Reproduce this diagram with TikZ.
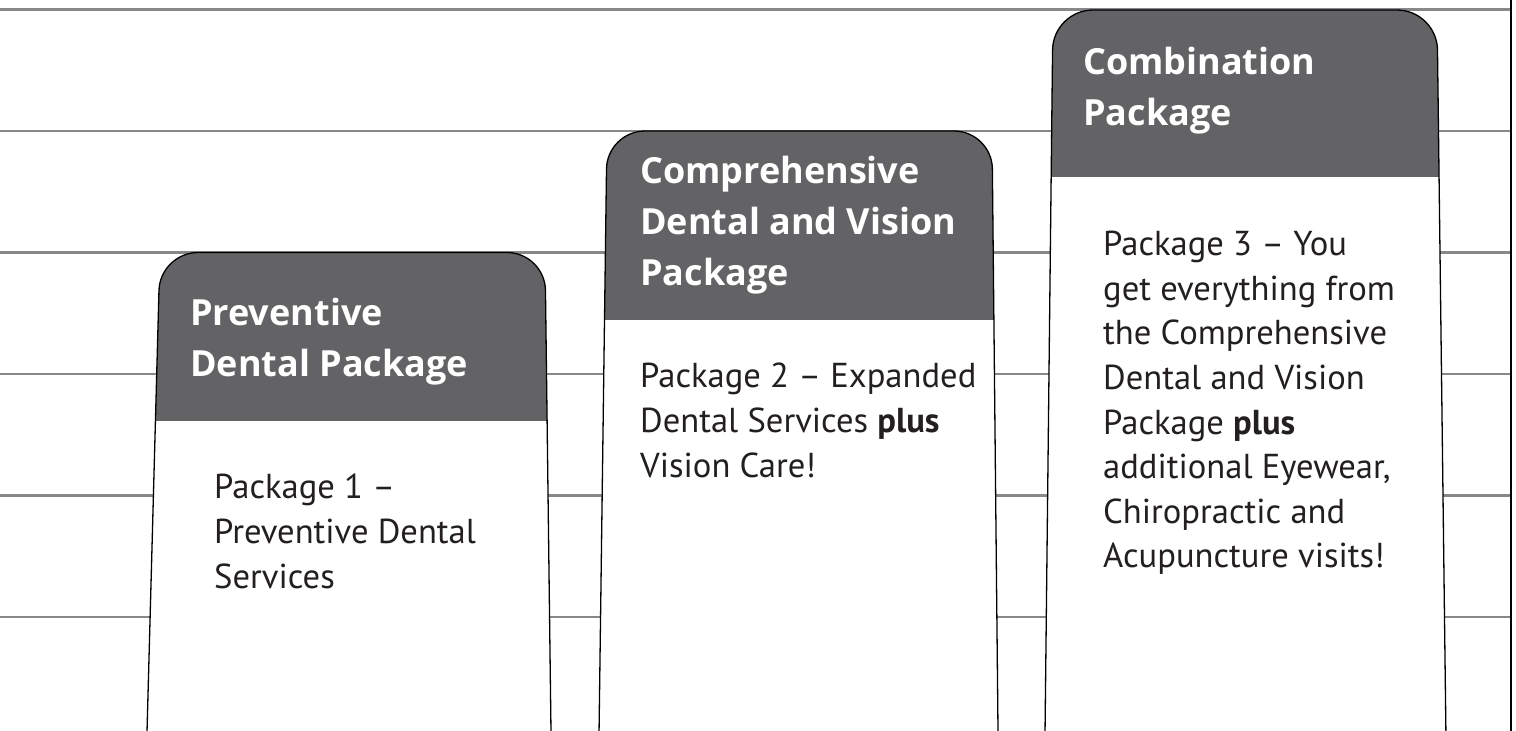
\documentclass[tikz,border=0pt]{standalone}
\usepackage{fontspec}
\setmainfont{PT Sans}
\newfontfamily\headfont{Open Sans}
\definecolor{hdrgray}{HTML}{636366}
\definecolor{rulegray}{HTML}{88888A}
\definecolor{ink}{HTML}{231F20}
\tikzset{
  rule/.style={draw=rulegray, line width=2.2pt},
  colline/.style={draw=black, line width=1.3pt},
  title/.style={anchor=north west, inner sep=0pt, align=left, text=white,
    font=\headfont\bfseries\fontsize{36}{51}\selectfont},
  body/.style={anchor=north west, inner sep=0pt, align=left, text=ink,
    font=\fontsize{34.6}{44.6}\selectfont},
}
\begin{document}
\begin{tikzpicture}[x=1pt,y=-1pt]
      \useasboundingbox (0,0) rectangle (1516,731);
      \clip (0,0) rectangle (1516,731);
      % background rules
      \draw[rule] (0,9.5) -- (1511,9.5);
      \draw[rule] (0,131) -- (1511,131);
      \draw[rule] (0,252.5) -- (1511,252.5);
      \draw[rule] (0,374) -- (1511,374);
      \draw[rule] (0,495.5) -- (1511,495.5);
      \draw[rule] (0,617) -- (1511,617);
      \draw[colline] (1511,0) -- (1511,731);
      % column 1
      \fill[white, rounded corners=38pt] (145.7,780) -- (160,252.5) -- (545,252.5) -- (551.6,780) -- cycle;
      \begin{scope}
        \clip (0,0) rectangle (1516,420);
        \fill[hdrgray, rounded corners=38pt] (145.7,780) -- (160,252.5) -- (545,252.5) -- (551.6,780) -- cycle;
      \end{scope}
      \draw[colline, rounded corners=38pt] (145.7,780) -- (160,252.5) -- (545,252.5) -- (551.6,780) -- cycle;
      % column 2
      \fill[white, rounded corners=38pt] (598.4,780) -- (607,131) -- (992,131) -- (998.5,780) -- cycle;
      \begin{scope}
        \clip (0,0) rectangle (1516,319);
        \fill[hdrgray, rounded corners=38pt] (598.4,780) -- (607,131) -- (992,131) -- (998.5,780) -- cycle;
      \end{scope}
      \draw[colline, rounded corners=38pt] (598.4,780) -- (607,131) -- (992,131) -- (998.5,780) -- cycle;
      % column 3
      \fill[white, rounded corners=40pt] (1044.5,780) -- (1053,10) -- (1437,10) -- (1446.5,780) -- cycle;
      \begin{scope}
        \clip (0,0) rectangle (1516,176);
        \fill[hdrgray, rounded corners=40pt] (1044.5,780) -- (1053,10) -- (1437,10) -- (1446.5,780) -- cycle;
      \end{scope}
      \draw[colline, rounded corners=40pt] (1044.5,780) -- (1053,10) -- (1437,10) -- (1446.5,780) -- cycle;
      % texts
      \node[title] (preventive) at (190,297.5) {Preventive\\Dental Package};
      \node[title] (comprehensive) at (640,156) {Comprehensive\\Dental and Vision\\Package};
      \node[title] (combination) at (1083,47) {Combination\\Package};
      \node[body] (pkgone) at (214,474) {Package 1 --\\Preventive Dental\\Services};
      \node[body] (pkgtwo) at (640,363) {Package 2 -- Expanded\\Dental Services {\bfseries plus}\\Vision Care!};
      \node[body] (pkgthree) at (1103,231) {Package 3 -- You\\get everything from\\the Comprehensive\\Dental and Vision\\Package {\bfseries plus}\\additional Eyewear,\\Chiropractic and\\Acupuncture visits!};
\end{tikzpicture}
\end{document}
